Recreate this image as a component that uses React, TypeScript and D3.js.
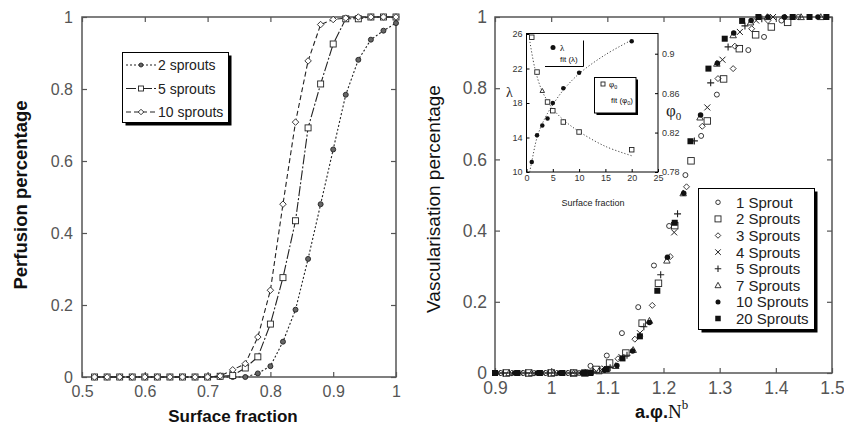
import React, { useRef, useEffect } from "react";
import * as d3 from "d3";

// ---- left panel: perfusion vs surface fraction ----
const surfaceFraction = [0.52, 0.54, 0.56, 0.58, 0.6, 0.62, 0.64, 0.66, 0.68, 0.7, 0.72, 0.74, 0.76,
  0.78, 0.8, 0.82, 0.84, 0.86, 0.88, 0.9, 0.92, 0.94, 0.96, 0.98, 1.0];
const perfusion2 = [0, 0, 0, 0, 0, 0, 0, 0, 0, 0, 0, 0, 0,
  0.01, 0.03, 0.098, 0.187, 0.328, 0.48, 0.632, 0.784, 0.881, 0.937, 0.962, 0.983];
const perfusion5 = [0, 0, 0, 0, 0, 0, 0, 0, 0, 0, 0.002, 0.004, 0.025,
  0.056, 0.147, 0.276, 0.434, 0.692, 0.814, 0.925, 0.995, 0.995, 1, 1, 1];
const perfusion10 = [0, 0, 0, 0, 0, 0, 0, 0, 0, 0, 0.003, 0.02, 0.037,
  0.111, 0.241, 0.48, 0.708, 0.878, 0.979, 0.993, 0.997, 1, 1, 1, 1];
const leftLabels = ["2 sprouts", "5 sprouts", "10 sprouts"];
const leftXTicks = [0.5, 0.6, 0.7, 0.8, 0.9, 1];
const leftYTicks = [0, 0.2, 0.4, 0.6, 0.8, 1];

// ---- right panel: vascularisation vs a.phi.N^b ----
const sprout1 = [[0.91, 0], [0.95, 0], [0.99, 0], [1.03, 0], [1.05, 0], [1.07, 0.02], [1.099, 0.049], [1.126, 0.112],
  [1.155, 0.185], [1.183, 0.302], [1.21, 0.413], [1.239, 0.556], [1.267, 0.666], [1.295, 0.782],
  [1.351, 0.907], [1.379, 0.944], [1.41, 0.99], [1.44, 1.0]];
const sprout2 = [[0.92, 0], [0.96, 0], [1.0, 0], [1.04, 0], [1.06, 0], [1.08, 0.01], [1.104, 0.028], [1.133, 0.056],
  [1.162, 0.14], [1.191, 0.252], [1.22, 0.414], [1.249, 0.596], [1.278, 0.708], [1.307, 0.826],
  [1.335, 0.911], [1.364, 0.95], [1.392, 0.972], [1.421, 0.985]];
const sprout3 = [[0.93, 0], [0.97, 0], [1.01, 0], [1.045, 0], [1.075, 0.005], [1.09, 0.012], [1.119, 0.04], [1.149, 0.095],
  [1.18, 0.19], [1.212, 0.327], [1.241, 0.523], [1.269, 0.693], [1.297, 0.827], [1.324, 0.855],
  [1.327, 0.918], [1.357, 0.967], [1.386, 0.99], [1.416, 1.0]];
const sprout4 = [[0.905, 0], [0.945, 0], [0.985, 0], [1.025, 0], [1.065, 0.003], [1.09, 0.01], [1.125, 0.045],
  [1.158, 0.112], [1.219, 0.395], [1.278, 0.746], [1.305, 0.88], [1.336, 0.958], [1.365, 0.99], [1.395, 1.0]];
const sprout5 = [[0.915, 0], [0.955, 0], [0.995, 0], [1.035, 0], [1.075, 0.005], [1.105, 0.015], [1.135, 0.05],
  [1.165, 0.13], [1.195, 0.276], [1.225, 0.447], [1.255, 0.652], [1.284, 0.815], [1.315, 0.916],
  [1.345, 0.975], [1.375, 0.995]];
const sprout7 = [[0.925, 0], [0.965, 0], [1.005, 0], [1.04, 0], [1.085, 0.005], [1.115, 0.02], [1.146, 0.065],
  [1.175, 0.147], [1.206, 0.316], [1.235, 0.505], [1.265, 0.718], [1.295, 0.869], [1.324, 0.949],
  [1.355, 0.985], [1.385, 1.0], [1.445, 1.0], [1.48, 1.0]];
const sprout10 = [[0.935, 0], [0.975, 0], [1.015, 0], [1.055, 0], [1.095, 0.008], [1.117, 0.021], [1.145, 0.062],
  [1.175, 0.142], [1.207, 0.325], [1.236, 0.505], [1.266, 0.725], [1.296, 0.87], [1.325, 0.955],
  [1.356, 0.99], [1.386, 1.0], [1.415, 1.0], [1.475, 1.0]];
const sprout20 = [[0.9, 0], [0.94, 0], [0.98, 0], [1.02, 0], [1.06, 0], [1.07, 0], [1.099, 0.011], [1.127, 0.041],
  [1.158, 0.103], [1.189, 0.231], [1.22, 0.422], [1.248, 0.651], [1.28, 0.855], [1.309, 0.939],
  [1.34, 0.989], [1.369, 1.0], [1.43, 1.0], [1.46, 1.0], [1.49, 1.0]];
const sproutLabels = ["1 Sprout", "2 Sprouts", "3 Sprouts", "4 Sprouts", "5 Sprouts", "7 Sprouts", "10 Sprouts", "20 Sprouts"];
const rightXTicks = [0.9, 1, 1.1, 1.2, 1.3, 1.4, 1.5];
const rightYTicks = [0, 0.2, 0.4, 0.6, 0.8, 1];

// ---- inset: lambda and phi0 vs number of sprouts ----
const insetSprouts = [1, 2, 3, 4, 5, 7, 10, 20];
const lambdaValues = [11.16, 14.25, 15.4, 16.2, 18.0, 19.7, 21.5, 25.15];
const phiValues = [0.9167, 0.8814, 0.8625, 0.851, 0.8422, 0.8307, 0.8206, 0.8026];
const lambdaFitX = [0.6, 1, 2, 3, 4, 5, 7, 10, 15, 20];
const lambdaFitY = [10, 11.2, 14.0, 15.6, 16.8, 17.8, 19.5, 21.4, 23.6, 25.3];
const phiFitX = [0.65, 1.6, 2.85, 4, 5, 7, 10, 15, 20];
const phiFitY = [0.912, 0.885, 0.8635, 0.852, 0.844, 0.833, 0.821, 0.806, 0.7965];
const insetXTicks = [0, 5, 10, 15, 20, 25];
const lambdaTicks = [10, 14, 18, 22, 26];
const phiTicks = [0.78, 0.82, 0.86, 0.9];

const FONT = "'Liberation Sans', Arial, Helvetica, sans-serif";
const SERIF = "'Liberation Serif', 'Times New Roman', serif";
const INK = "#222";

function marker(g: any, kind: string, cx: number, cy: number, s: number, fill = "none") {
  const h = s / 2;
  if (kind === "circle") {
    g.append("circle").attr("cx", cx).attr("cy", cy).attr("r", h)
      .attr("fill", fill).attr("stroke", INK).attr("stroke-width", 0.9);
  } else if (kind === "circleFilled") {
    g.append("circle").attr("cx", cx).attr("cy", cy).attr("r", h).attr("fill", "#111");
  } else if (kind === "dotCircle") {
    g.append("circle").attr("cx", cx).attr("cy", cy).attr("r", h)
      .attr("fill", "#666").attr("stroke", INK).attr("stroke-width", 0.9);
  } else if (kind === "square") {
    g.append("rect").attr("x", cx - h).attr("y", cy - h).attr("width", s).attr("height", s)
      .attr("fill", fill).attr("stroke", INK).attr("stroke-width", 0.9);
  } else if (kind === "squareFilled") {
    g.append("rect").attr("x", cx - h).attr("y", cy - h).attr("width", s).attr("height", s).attr("fill", "#111");
  } else if (kind === "diamond") {
    g.append("path").attr("d", `M${cx},${cy - h}L${cx + h},${cy}L${cx},${cy + h}L${cx - h},${cy}Z`)
      .attr("fill", fill).attr("stroke", INK).attr("stroke-width", 0.9);
  } else if (kind === "cross") {
    g.append("path").attr("d", `M${cx - h},${cy - h}L${cx + h},${cy + h}M${cx + h},${cy - h}L${cx - h},${cy + h}`)
      .attr("stroke", INK).attr("stroke-width", 1);
  } else if (kind === "plus") {
    g.append("path").attr("d", `M${cx - h},${cy}L${cx + h},${cy}M${cx},${cy - h}L${cx},${cy + h}`)
      .attr("stroke", INK).attr("stroke-width", 1.1);
  } else if (kind === "triangle") {
    g.append("path").attr("d", `M${cx},${cy - h}L${cx + h},${cy + h * 0.8}L${cx - h},${cy + h * 0.8}Z`)
      .attr("fill", fill).attr("stroke", INK).attr("stroke-width", 0.9);
  }
}

function frameAxes(svg: any, x: any, y: any, xt: number[], yt: number[], fs: number, padX: number, padY: number) {
  const [x0, x1] = x.range();
  const [y0, y1] = y.range();
  const style = (g: any) => {
    g.select(".domain").remove();
    g.selectAll("line").attr("stroke", "#555").attr("stroke-width", 1.2);
    g.selectAll("text").attr("font-size", fs).attr("fill", "#555").attr("font-family", FONT);
  };
  svg.append("g").attr("transform", `translate(0,${y0})`)
    .call(d3.axisBottom(x).tickValues(xt).tickSize(-5).tickPadding(padX).tickFormat(d3.format("")))
    .call(style);
  svg.append("g").attr("transform", `translate(0,${y1})`)
    .call(d3.axisTop(x).tickValues(xt).tickSize(-5).tickFormat(() => "")).call(style);
  svg.append("g").attr("transform", `translate(${x0},0)`)
    .call(d3.axisLeft(y).tickValues(yt).tickSize(-5).tickPadding(padY).tickFormat(d3.format("")))
    .call(style);
  svg.append("g").attr("transform", `translate(${x1},0)`)
    .call(d3.axisRight(y).tickValues(yt).tickSize(-5).tickFormat(() => "")).call(style);
  svg.append("rect").attr("x", x0).attr("y", y1).attr("width", x1 - x0).attr("height", y0 - y1)
    .attr("fill", "none").attr("stroke", "#555").attr("stroke-width", 1.5);
}

export default function App() {
  const ref = useRef<SVGSVGElement>(null);

  useEffect(() => {
    document.body.style.margin = "0";
    const svg = d3.select(ref.current);
    svg.selectAll("*").remove();
    svg.append("rect").attr("width", 844).attr("height", 431).attr("fill", "#fff");

    // ================= left panel =================
    const xL = d3.scaleLinear().domain([0.5, 1]).range([82, 396]);
    const yL = d3.scaleLinear().domain([0, 1]).range([377, 17]);
    frameAxes(svg, xL, yL, leftXTicks, leftYTicks, 16, 9, 9);

    const leftSeries = [
      { vals: perfusion2, dash: "2,2", mk: "dotCircle", size: 5 },
      { vals: perfusion5, dash: "10,2,2,2", mk: "square", size: 6 },
      { vals: perfusion10, dash: "5,3", mk: "diamond", size: 6.5 },
    ];
    const line = d3.line<number>().x((_, i) => xL(surfaceFraction[i])).y(d => yL(d));
    leftSeries.forEach(s => {
      svg.append("path").attr("d", line(s.vals)).attr("fill", "none")
        .attr("stroke", INK).attr("stroke-width", 1.1).attr("stroke-dasharray", s.dash);
    });
    leftSeries.forEach(s => {
      const g = svg.append("g");
      s.vals.forEach((v, i) => marker(g, s.mk, xL(surfaceFraction[i]), yL(v), s.size, "#fff"));
    });

    // legend
    const lg = svg.append("g");
    lg.append("rect").attr("x", 125.5).attr("y", 55.5).attr("width", 106).attr("height", 70).attr("fill", "#000");
    lg.append("rect").attr("x", 122.5).attr("y", 52.5).attr("width", 106).attr("height", 70)
      .attr("fill", "#fff").attr("stroke", "#000").attr("stroke-width", 1);
    leftSeries.forEach((s, i) => {
      const yy = 65 + i * 23.5;
      lg.append("line").attr("x1", 126).attr("x2", 156).attr("y1", yy).attr("y2", yy)
        .attr("stroke", INK).attr("stroke-width", 1.1).attr("stroke-dasharray", s.dash);
      marker(lg, s.mk, 141, yy, s.size - 1, "#fff");
      lg.append("text").attr("x", 158).attr("y", yy + 5).attr("font-size", 14).attr("fill", "#222")
        .attr("font-family", FONT).text(leftLabels[i]);
    });

    svg.append("text").attr("x", 233).attr("y", 422).attr("text-anchor", "middle")
      .attr("font-size", 17).attr("font-weight", "bold").attr("font-family", FONT).attr("fill", "#111")
      .text("Surface fraction");
    svg.append("text").attr("transform", "translate(27,195) rotate(-90)").attr("text-anchor", "middle")
      .attr("font-size", 18.5).attr("font-weight", "bold").attr("font-family", FONT).attr("fill", "#111")
      .text("Perfusion percentage");

    // ================= right panel =================
    const xR = d3.scaleLinear().domain([0.9, 1.5]).range([495, 832]);
    const yR = d3.scaleLinear().domain([0, 1]).range([373, 17]);
    frameAxes(svg, xR, yR, rightXTicks, rightYTicks, 17.5, 9, 8);

    const rightSeries = [
      { pts: sprout1, mk: "circle", size: 5 },
      { pts: sprout2, mk: "square", size: 6.5 },
      { pts: sprout3, mk: "diamond", size: 6 },
      { pts: sprout4, mk: "cross", size: 6 },
      { pts: sprout5, mk: "plus", size: 7 },
      { pts: sprout7, mk: "triangle", size: 6.5 },
      { pts: sprout10, mk: "circleFilled", size: 5.5 },
      { pts: sprout20, mk: "squareFilled", size: 6 },
    ];
    rightSeries.forEach(s => {
      const g = svg.append("g");
      s.pts.forEach(p => marker(g, s.mk, xR(p[0]), yR(p[1]), s.size));
    });

    // legend
    const rg = svg.append("g");
    rg.append("rect").attr("x", 701.5).attr("y", 191.5).attr("width", 116).attr("height", 141).attr("fill", "#000");
    rg.append("rect").attr("x", 698.5).attr("y", 188.5).attr("width", 116).attr("height", 141)
      .attr("fill", "#fff").attr("stroke", "#000").attr("stroke-width", 1);
    rightSeries.forEach((s, i) => {
      const yy = 202.3 + i * 16.6;
      marker(rg, s.mk, 718, yy, s.size - 0.5, s.mk === "square" ? "#fff" : "none");
      rg.append("text").attr("x", 736).attr("y", yy + 5.5).attr("font-size", 15).attr("fill", "#222")
        .attr("font-family", FONT).text(sproutLabels[i]);
    });

    const xt = svg.append("text").attr("x", 635).attr("y", 418).attr("fill", "#111");
    xt.append("tspan").attr("font-family", FONT).attr("font-weight", "bold").attr("font-size", 18).text("a.");
    xt.append("tspan").attr("font-family", FONT).attr("font-weight", "bold").attr("font-size", 18).text("φ");
    xt.append("tspan").attr("font-family", FONT).attr("font-weight", "bold").attr("font-size", 18).text(".");
    xt.append("tspan").attr("font-family", SERIF).attr("font-size", 19).text("N");
    xt.append("tspan").attr("font-family", SERIF).attr("font-size", 13).attr("dy", -9).text("b");
    svg.append("text").attr("transform", "translate(440,199) rotate(-90)").attr("text-anchor", "middle")
      .attr("font-size", 19).attr("font-family", FONT).attr("fill", "#111")
      .text("Vascularisation percentage");

    // ================= inset =================
    const xi = d3.scaleLinear().domain([0, 25]).range([526.5, 658]);
    const yl = d3.scaleLinear().domain([10, 26]).range([172, 34]);
    const yp = d3.scaleLinear().domain([0.78, 0.92]).range([172, 34]);
    svg.append("rect").attr("x", 526.5).attr("y", 33.5).attr("width", 131.5).attr("height", 138.5)
      .attr("fill", "#fff");
    const istyle = (g: any) => {
      g.select(".domain").remove();
      g.selectAll("line").attr("stroke", "#000");
      g.selectAll("text").attr("font-size", 9).attr("fill", "#333").attr("font-family", FONT);
    };
    svg.append("g").attr("transform", "translate(0,172)")
      .call(d3.axisBottom(xi).tickValues(insetXTicks).tickSize(-3).tickPadding(3)).call(istyle);
    svg.append("g").attr("transform", "translate(526.5,0)")
      .call(d3.axisLeft(yl).tickValues(lambdaTicks).tickSize(-3).tickPadding(4)).call(istyle);
    svg.append("g").attr("transform", "translate(658,0)")
      .call(d3.axisRight(yp).tickValues(phiTicks).tickSize(-3).tickPadding(4).tickFormat(d3.format(""))).call(istyle);
    svg.append("rect").attr("x", 526.5).attr("y", 33.5).attr("width", 131.5).attr("height", 138.5)
      .attr("fill", "none").attr("stroke", "#000").attr("stroke-width", 1);

    const fitL = d3.line<number>().x((_, i) => xi(lambdaFitX[i])).y(d => yl(d)).curve(d3.curveCatmullRom);
    const fitP = d3.line<number>().x((_, i) => xi(phiFitX[i])).y(d => yp(d)).curve(d3.curveCatmullRom);
    svg.append("path").attr("d", fitL(lambdaFitY)).attr("fill", "none").attr("stroke", "#444")
      .attr("stroke-width", 1).attr("stroke-dasharray", "1.2,2");
    svg.append("path").attr("d", fitP(phiFitY)).attr("fill", "none").attr("stroke", "#444")
      .attr("stroke-width", 1).attr("stroke-dasharray", "1.2,2");
    const ig = svg.append("g");
    phiValues.forEach((v, i) => marker(ig, i === 2 ? "triangle" : "square", xi(insetSprouts[i]), yp(v), 4.5, "#fff"));
    lambdaValues.forEach((v, i) => marker(ig, "circleFilled", xi(insetSprouts[i]), yl(v), 4.5));

    // inset legends
    ig.append("path").attr("d", "M545,66.5H583.5V40.5").attr("fill", "none").attr("stroke", "#000").attr("stroke-width", 1);
    marker(ig, "circleFilled", 553, 47.5, 5);
    ig.append("text").attr("x", 560).attr("y", 50.5).attr("font-size", 9).attr("font-family", SERIF).text("λ");
    ig.append("text").attr("x", 560).attr("y", 62).attr("font-size", 8).attr("font-family", FONT)
      .attr("fill", "#111").text("fit (λ)");

    ig.append("rect").attr("x", 596.5).attr("y", 79.5).attr("width", 41.5).attr("height", 35.5).attr("fill", "#000");
    ig.append("rect").attr("x", 594.5).attr("y", 77.5).attr("width", 41.5).attr("height", 35.5)
      .attr("fill", "#fff").attr("stroke", "#000").attr("stroke-width", 1);
    marker(ig, "square", 603, 84, 4, "#fff");
    const pl = ig.append("text").attr("x", 609).attr("y", 87).attr("font-size", 9).attr("font-family", SERIF);
    pl.append("tspan").text("φ");
    pl.append("tspan").attr("font-size", 6).attr("dy", 2).text("0");
    const pf = ig.append("text").attr("x", 611).attr("y", 103).attr("font-size", 8).attr("font-family", FONT)
      .attr("fill", "#111");
    pf.append("tspan").text("fit (φ");
    pf.append("tspan").attr("font-size", 5.5).attr("dy", 2).text("0");
    pf.append("tspan").attr("dy", -2).text(")");

    svg.append("text").attr("x", 593).attr("y", 206).attr("text-anchor", "middle").attr("font-size", 9)
      .attr("font-family", FONT).attr("fill", "#222").text("Surface fraction");
    svg.append("text").attr("x", 506).attr("y", 97).attr("font-size", 14).attr("font-family", SERIF)
      .attr("fill", "#222").text("λ");
    const pr = svg.append("text").attr("x", 666).attr("y", 116).attr("font-size", 17).attr("font-family", SERIF)
      .attr("fill", "#222");
    pr.append("tspan").text("φ");
    pr.append("tspan").attr("font-size", 11).attr("dy", 4).text("0");
  }, []);

  return <svg ref={ref} width={844} height={431} style={{ display: "block" }} />;
}
